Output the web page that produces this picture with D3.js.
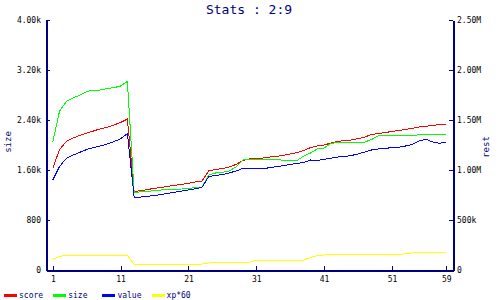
<!DOCTYPE html>
<html>
<head>
<meta charset="utf-8">
<script src="https://cdn.jsdelivr.net/npm/d3@7"></script>
<style>
  body { margin: 0; background: #fff; }
  svg { display: block; }
</style>
</head>
<body>
<svg id="chart" width="500" height="300"></svg>
<script>
// step numbers along the bottom
var steps = d3.range(1, 60);

// one value per step
var score = [1017000,1205000,1285000,1320000,1347000,1370000,1390000,1412000,1427000,1450000,1475000,1510000,
  785000,793000,805000,817000,825000,837000,847000,857000,867000,880000,890000,
  993000,1005000,1015000,1030000,1055000,
  1095000,1110000,1117000,1120000,1130000,1137000,1147000,1160000,1173000,1195000,
  1225000,1240000,1250000,1270000,1285000,1295000,1300000,1313000,1330000,1355000,
  1365000,1375000,1385000,1395000,1405000,1417000,1430000,1437000,1445000,1455000,
  1457000];
var size = [2050,2544,2696,2752,2800,2856,2880,2880,2904,2917,2944,3016,
  1237,1253,1259,1269,1280,1285,1291,1296,1307,1317,1328,
  1520,1552,1563,1584,1648,
  1760,1771,1771,1771,1771,1771,1752,1749,1752,1824,
  1872,1936,1952,2024,2043,2043,2043,2043,2048,2088,
  2149,2160,2160,2152,2149,2149,2165,2165,2165,2165,
  2165];
var value = [900000,1035000,1117000,1150000,1177000,1205000,1225000,1240000,1260000,1283000,1313000,1365000,
  727000,730000,737000,745000,755000,767000,778000,790000,800000,813000,827000,
  935000,945000,955000,970000,990000,
  1015000,1017000,1017000,1010000,1025000,1033000,1043000,1057000,1065000,1075000,
  1100000,1095000,1107000,1117000,1130000,1133000,1145000,1160000,1180000,1200000,
  1210000,1215000,1225000,1227000,1240000,1255000,1290000,1307000,1280000,1267000,
  1277000];
var xp60 = [107000,135000,147000,147000,147000,147000,147000,147000,147000,147000,147000,147000,
  57000,57000,57000,57000,57000,57000,57000,57000,57000,57000,60000,
  70000,77000,77000,77000,77000,
  77000,77000,100000,100000,100000,100000,100000,100000,100000,100000,
  125000,145000,150000,153000,157000,157000,157000,157000,157000,157000,
  157000,157000,157000,157000,162000,170000,177000,177000,177000,177000,
  177000];

var xTicks = [1, 11, 21, 31, 41, 51, 59];
var leftTicks = [0, 800, 1600, 2400, 3200, 4000];
var leftLabels = ["0", "800", "1.60k", "2.40k", "3.20k", "4.00k"];
var rightTicks = [0, 500000, 1000000, 1500000, 2000000, 2500000];
var rightLabels = ["0", "500k", "1.00M", "1.50M", "2.00M", "2.50M"];

var seriesNames = ["score", "size", "value", "xp*60"];
var seriesColors = ["#ff0000", "#00ff00", "#0000ff", "#ffff00"];

var navy = "#000080";
var mono = "'DejaVu Sans Mono', monospace";

var svg = d3.select("#chart");

var x = d3.scaleLinear().domain([0, 60]).range([46, 453]);
var yLeft = d3.scaleLinear().domain([0, 4000]).range([270, 20]);
var yRight = d3.scaleLinear().domain([0, 2500000]).range([270, 20]);

// title
svg.append("text")
    .attr("x", 249)
    .attr("y", 14)
    .attr("text-anchor", "middle")
    .style("font-family", mono)
    .style("font-size", "13px")
    .attr("fill", navy)
    .text("Stats : 2:9");

// lines, size goes on the left scale, the others on the right one
var all = [
  {vals: score, y: yRight},
  {vals: size, y: yLeft},
  {vals: value, y: yRight},
  {vals: xp60, y: yRight}
];

all.forEach(function(s, k) {
  var line = d3.line()
      .x(function(d, i) { return x(steps[i]); })
      .y(function(d) { return s.y(d); });
  svg.append("path")
      .datum(s.vals)
      .attr("d", line)
      .attr("fill", "none")
      .attr("stroke", seriesColors[k])
      .attr("stroke-width", 1)
      .style("shape-rendering", "crispEdges");
});

// axes
function styleAxis(g) {
  g.style("font-family", mono).style("font-size", "8px");
  g.selectAll("path, line")
      .attr("stroke", navy)
      .style("shape-rendering", "crispEdges");
  g.select(".domain").attr("stroke-width", 2);
  g.selectAll("text").attr("fill", "#000");
}

svg.append("g")
    .attr("transform", "translate(0,270)")
    .call(d3.axisBottom(x).tickValues(xTicks).tickSizeInner(-4).tickSizeOuter(0).tickPadding(6))
    .call(styleAxis);

svg.append("g")
    .attr("transform", "translate(46,0)")
    .call(d3.axisLeft(yLeft).tickValues(leftTicks)
        .tickFormat(function(d, i) { return leftLabels[i]; })
        .tickSizeInner(-4).tickSizeOuter(0).tickPadding(5))
    .call(styleAxis);

svg.append("g")
    .attr("transform", "translate(453,0)")
    .call(d3.axisRight(yRight).tickValues(rightTicks)
        .tickFormat(function(d, i) { return rightLabels[i]; })
        .tickSizeInner(-4).tickSizeOuter(0).tickPadding(4))
    .call(styleAxis);

// axis titles
svg.append("text")
    .attr("transform", "translate(11,142) rotate(-90)")
    .attr("text-anchor", "middle")
    .style("font-family", mono)
    .style("font-size", "9px")
    .attr("fill", navy)
    .text("size");

svg.append("text")
    .attr("transform", "translate(489,147) rotate(-90)")
    .attr("text-anchor", "middle")
    .style("font-family", mono)
    .style("font-size", "9px")
    .attr("fill", navy)
    .text("rest");

// legend
var legend = svg.selectAll(".leg")
    .data(seriesNames)
    .enter().append("g")
    .attr("class", "leg")
    .attr("transform", function(d, i) { return "translate(" + (4 + i * 49.2) + ",0)"; });

legend.append("line")
    .attr("x1", 0).attr("x2", 13)
    .attr("y1", 295).attr("y2", 295)
    .attr("stroke", function(d, i) { return seriesColors[i]; })
    .attr("stroke-width", 3)
    .style("shape-rendering", "crispEdges");

legend.append("text")
    .attr("x", 15)
    .attr("y", 298)
    .style("font-family", mono)
    .style("font-size", "8px")
    .attr("fill", navy)
    .text(function(d) { return d; });
</script>
</body>
</html>
